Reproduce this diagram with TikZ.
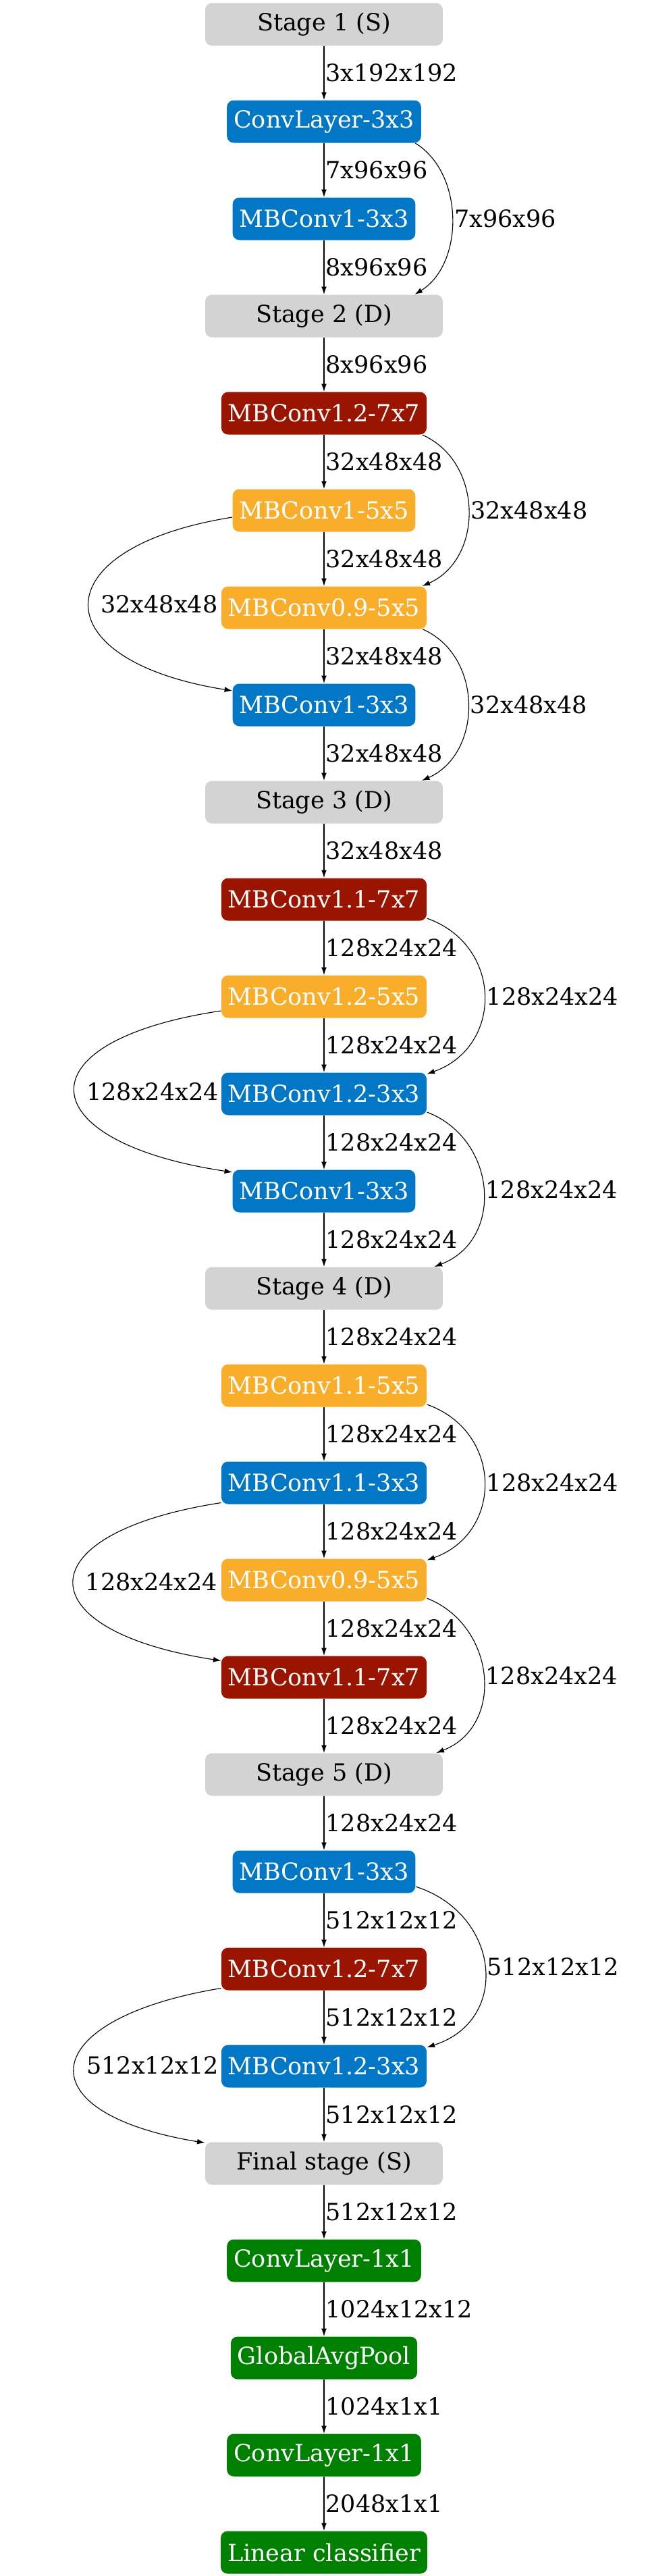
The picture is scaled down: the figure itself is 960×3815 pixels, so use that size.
\documentclass[tikz,border=0pt]{standalone}
\usepackage{fontspec}
\setmainfont{DejaVu Serif}
\usetikzlibrary{arrows.meta}
\definecolor{convblue}{RGB}{2,119,198}
\definecolor{convorange}{RGB}{248,174,42}
\definecolor{convred}{RGB}{153,21,0}
\definecolor{headgreen}{RGB}{0,128,0}
\definecolor{stagegray}{RGB}{211,211,211}

\begin{document}
\begin{tikzpicture}[x=0.4pt, y=-0.4pt,
		every node/.style={font=\fontsize{14}{17}\selectfont},
		layer/.style={rounded corners=4pt, minimum height=25.2pt, inner xsep=4pt, text=white},
		k3/.style={layer, fill=convblue},
		k5/.style={layer, fill=convorange},
		k7/.style={layer, fill=convred},
		head/.style={layer, fill=headgreen},
		stagebox/.style={layer, fill=stagegray, text=black, minimum width=140.8pt},
		flow/.style={-{Latex[length=4.6pt,width=3.2pt]}, line width=0.45pt},
		dim/.style={midway, anchor=west, inner sep=0.8pt}]
				\useasboundingbox (0,0) rectangle (960,3815);
				\node [stagebox] (stage1) at (480,36) {Stage 1 (S)};
				\node [k3] (stemconv) at (480,180) {ConvLayer-3x3};
				\node [k3] (s1b1) at (480,324) {MBConv1-3x3};
				\node [stagebox] (stage2) at (480,468) {Stage 2 (D)};
				\node [k7] (s2b1) at (480,612) {MBConv1.2-7x7};
				\node [k5] (s2b2) at (480,756) {MBConv1-5x5};
				\node [k5] (s2b3) at (480,900) {MBConv0.9-5x5};
				\node [k3] (s2b4) at (480,1044) {MBConv1-3x3};
				\node [stagebox] (stage3) at (480,1188) {Stage 3 (D)};
				\node [k7] (s3b1) at (480,1332) {MBConv1.1-7x7};
				\node [k5] (s3b2) at (480,1476) {MBConv1.2-5x5};
				\node [k3] (s3b3) at (480,1620) {MBConv1.2-3x3};
				\node [k3] (s3b4) at (480,1764) {MBConv1-3x3};
				\node [stagebox] (stage4) at (480,1908) {Stage 4 (D)};
				\node [k5] (s4b1) at (480,2052) {MBConv1.1-5x5};
				\node [k3] (s4b2) at (480,2196) {MBConv1.1-3x3};
				\node [k5] (s4b3) at (480,2340) {MBConv0.9-5x5};
				\node [k7] (s4b4) at (480,2484) {MBConv1.1-7x7};
				\node [stagebox] (stage5) at (480,2628) {Stage 5 (D)};
				\node [k3] (s5b1) at (480,2772) {MBConv1-3x3};
				\node [k7] (s5b2) at (480,2916) {MBConv1.2-7x7};
				\node [k3] (s5b3) at (480,3060) {MBConv1.2-3x3};
				\node [stagebox] (final) at (480,3204) {Final stage (S)};
				\node [head] (headconv) at (480,3348) {ConvLayer-1x1};
				\node [head] (pool) at (480,3492) {GlobalAvgPool};
				\node [head] (fcconv) at (480,3636) {ConvLayer-1x1};
				\node [head] (classifier) at (480,3780) {Linear classifier};
				% main chain
				\draw [flow] (stage1) -- (stemconv) node [dim] {3x192x192};
				\draw [flow] (stemconv) -- (s1b1) node [dim] {7x96x96};
				\draw [flow] (s1b1) -- (stage2) node [dim] {8x96x96};
				\draw [flow] (stage2) -- (s2b1) node [dim] {8x96x96};
				\draw [flow] (s2b1) -- (s2b2) node [dim] {32x48x48};
				\draw [flow] (s2b2) -- (s2b3) node [dim] {32x48x48};
				\draw [flow] (s2b3) -- (s2b4) node [dim] {32x48x48};
				\draw [flow] (s2b4) -- (stage3) node [dim] {32x48x48};
				\draw [flow] (stage3) -- (s3b1) node [dim] {32x48x48};
				\draw [flow] (s3b1) -- (s3b2) node [dim] {128x24x24};
				\draw [flow] (s3b2) -- (s3b3) node [dim] {128x24x24};
				\draw [flow] (s3b3) -- (s3b4) node [dim] {128x24x24};
				\draw [flow] (s3b4) -- (stage4) node [dim] {128x24x24};
				\draw [flow] (stage4) -- (s4b1) node [dim] {128x24x24};
				\draw [flow] (s4b1) -- (s4b2) node [dim] {128x24x24};
				\draw [flow] (s4b2) -- (s4b3) node [dim] {128x24x24};
				\draw [flow] (s4b3) -- (s4b4) node [dim] {128x24x24};
				\draw [flow] (s4b4) -- (stage5) node [dim] {128x24x24};
				\draw [flow] (stage5) -- (s5b1) node [dim] {128x24x24};
				\draw [flow] (s5b1) -- (s5b2) node [dim] {512x12x12};
				\draw [flow] (s5b2) -- (s5b3) node [dim] {512x12x12};
				\draw [flow] (s5b3) -- (final) node [dim] {512x12x12};
				\draw [flow] (final) -- (headconv) node [dim] {512x12x12};
				\draw [flow] (headconv) -- (pool) node [dim] {1024x12x12};
				\draw [flow] (pool) -- (fcconv) node [dim] {1024x1x1};
				\draw [flow] (fcconv) -- (classifier) node [dim] {2048x1x1};
				% skips on the right
				\draw [flow] ([xshift=-3.6pt]stemconv.south east) .. controls +(73,45) and +(73,-45) .. ([xshift=-16.8pt]stage2.north east) node [dim, inner sep=1.2pt] {7x96x96};
				\draw [flow] ([xshift=-2.8pt]s2b1.south east) .. controls +(91,40) and +(91,-40) .. ([xshift=-2.8pt]s2b3.north east) node [dim, inner sep=1.2pt] {32x48x48};
				\draw [flow] ([xshift=-2.4pt]s2b3.south east) .. controls +(90,40) and +(90,-40) .. ([xshift=-12.6pt]stage3.north east) node [dim, inner sep=1.2pt] {32x48x48};
				\draw [flow] ([yshift=1.6pt]s3b1.south east) .. controls +(113,40) and +(113,-40) .. ([yshift=-1pt]s3b3.north east) node [dim, inner sep=1.2pt] {128x24x24};
				\draw [flow] ([yshift=2pt]s3b3.south east) .. controls +(104,40) and +(104,-40) .. ([xshift=-5.2pt]stage4.north east) node [dim, inner sep=1.2pt] {128x24x24};
				\draw [flow] ([yshift=1.6pt]s4b1.south east) .. controls +(113,40) and +(113,-40) .. ([yshift=-1pt]s4b3.north east) node [dim, inner sep=1.2pt] {128x24x24};
				\draw [flow] ([yshift=2pt]s4b3.south east) .. controls +(102,40) and +(102,-40) .. ([xshift=-4pt]stage5.north east) node [dim, inner sep=1.2pt] {128x24x24};
				\draw [flow] ([yshift=4pt]s5b1.south east) .. controls +(125,40) and +(125,-40) .. ([yshift=-1.6pt]s5b3.north east) node [dim, inner sep=1.2pt] {512x12x12};
				% skips on the left
				\draw [flow] ([yshift=-4pt]s2b2.west) .. controls +(-283,45) and +(-283,-45) .. ([yshift=8.4pt]s2b4.west) node [dim, xshift=6pt] {32x48x48};
				\draw [flow] ([yshift=-8.4pt]s3b2.west) .. controls +(-300,45) and +(-300,-45) .. ([yshift=-1.6pt]s3b4.north west) node [dim, xshift=6pt] {128x24x24};
				\draw [flow] ([yshift=1pt]s4b2.south west) .. controls +(-291,45) and +(-291,-45) .. ([yshift=-3pt]s4b4.north west) node [dim, xshift=6pt] {128x24x24};
				\draw [flow] ([yshift=1.4pt]s5b2.south west) .. controls +(-273,45) and +(-273,-45) .. ([yshift=-0.6pt]final.north west) node [dim, xshift=6pt] {512x12x12};
			\end{tikzpicture}
\end{document}
